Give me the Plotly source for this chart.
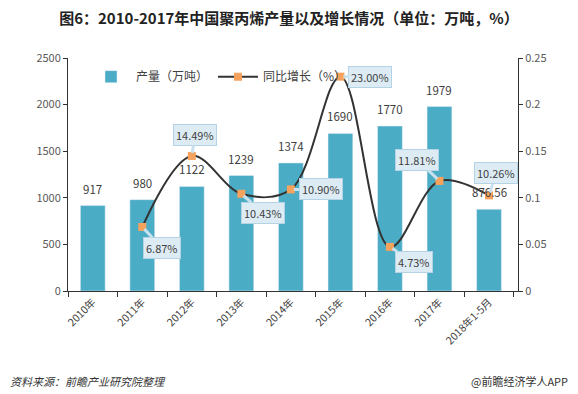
import plotly.graph_objects as go

categories = ["2010年", "2011年", "2012年", "2013年", "2014年", "2015年", "2016年", "2017年", "2018年1-5月"]
output = [917, 980, 1122, 1239, 1374, 1690, 1770, 1979, 876.56]
output_labels = ["917", "980", "1122", "1239", "1374", "1690", "1770", "1979", "876.56"]
growth_cats = categories[1:]
growth = [0.0687, 0.1449, 0.1043, 0.1090, 0.2300, 0.0473, 0.1181, 0.1026]
growth_labels = ["6.87%", "14.49%", "10.43%", "10.90%", "23.00%", "4.73%", "11.81%", "10.26%"]
label_offsets = [(20, 21), (3, -21), (22, 19), (30, 0), (30, 0), (24, 15), (-22, -21), (7, -22)]

FONT = "Noto Sans CJK SC"
fig = go.Figure()
fig.add_trace(go.Bar(
    x=categories, y=output, name="产量（万吨）", marker_color="#4BACC6", width=0.5,
))
fig.add_trace(go.Scatter(
    x=growth_cats, y=growth, name="同比增长（%）", yaxis="y2",
    mode="lines+markers", line=dict(color="#333333", width=2, shape="spline", smoothing=1.0),
    marker=dict(symbol="square", size=8, color="#F5A25D"),
))

annotations = []
for c, v, t in zip(categories, output, output_labels):
    annotations.append(dict(
        x=c, y=v, xref="x", yref="y", text=t, showarrow=False, yanchor="bottom", yshift=7,
        font=dict(size=11.5, color="#404040", family=FONT),
    ))
for c, v, t, (ax, ay) in zip(growth_cats, growth, growth_labels, label_offsets):
    annotations.append(dict(
        x=c, y=v, xref="x", yref="y2", text=t, showarrow=True, ax=ax, ay=ay,
        arrowhead=0, arrowwidth=3, arrowcolor="#C9E1EE", standoff=3,
        bgcolor="#DDECF4", bordercolor="#B4D3E4", borderwidth=1, borderpad=2,
        font=dict(size=11, color="#404040", family=FONT),
    ))
annotations.append(dict(x=-0.133, y=-0.388, xref="paper", yref="paper", xanchor="left", yanchor="middle",
                        text="<i>资料来源：前瞻产业研究院整理</i>", showarrow=False,
                        font=dict(size=11, color="#333333", family=FONT)))
annotations.append(dict(x=1.116, y=-0.388, xref="paper", yref="paper", xanchor="right", yanchor="middle",
                        text="@前瞻经济学人APP", showarrow=False,
                        font=dict(size=11, color="#333333", family=FONT)))

fig.update_layout(
    width=578, height=394, margin=dict(l=68, r=60, t=58, b=103),
    paper_bgcolor="white", plot_bgcolor="white",
    font=dict(family=FONT, size=11, color="#595959"),
    title=dict(text="<b>图6：2010-2017年中国聚丙烯产量以及增长情况（单位：万吨，%）</b>",
               x=0.5, xanchor="center", y=0.952, yanchor="middle",
               font=dict(size=15, color="#222222", family=FONT)),
    showlegend=True,
    legend=dict(orientation="h", x=0.04, y=0.92, xanchor="left", yanchor="middle",
                bgcolor="rgba(0,0,0,0)", font=dict(size=12, color="#404040"), itemwidth=40),
    xaxis=dict(type="category", showline=True, linecolor="#333333", ticks="outside",
               tickson="boundaries", ticklen=5, tickcolor="#333333", tickangle=-45,
               tickfont=dict(size=10.5, color="#404040"), showgrid=False),
    yaxis=dict(range=[0, 2500], dtick=500, showline=True, linecolor="#333333", ticks="outside",
               ticklen=4, tickcolor="#333333", showgrid=False, zeroline=False,
               tickfont=dict(size=11, color="#595959")),
    yaxis2=dict(range=[0, 0.25], dtick=0.05, overlaying="y", side="right", showline=True,
                linecolor="#333333", ticks="outside", ticklen=4, tickcolor="#333333",
                showgrid=False, zeroline=False, tickfont=dict(size=11, color="#595959")),
    annotations=annotations, bargap=0.5,
)
fig.write_html("out.html")
